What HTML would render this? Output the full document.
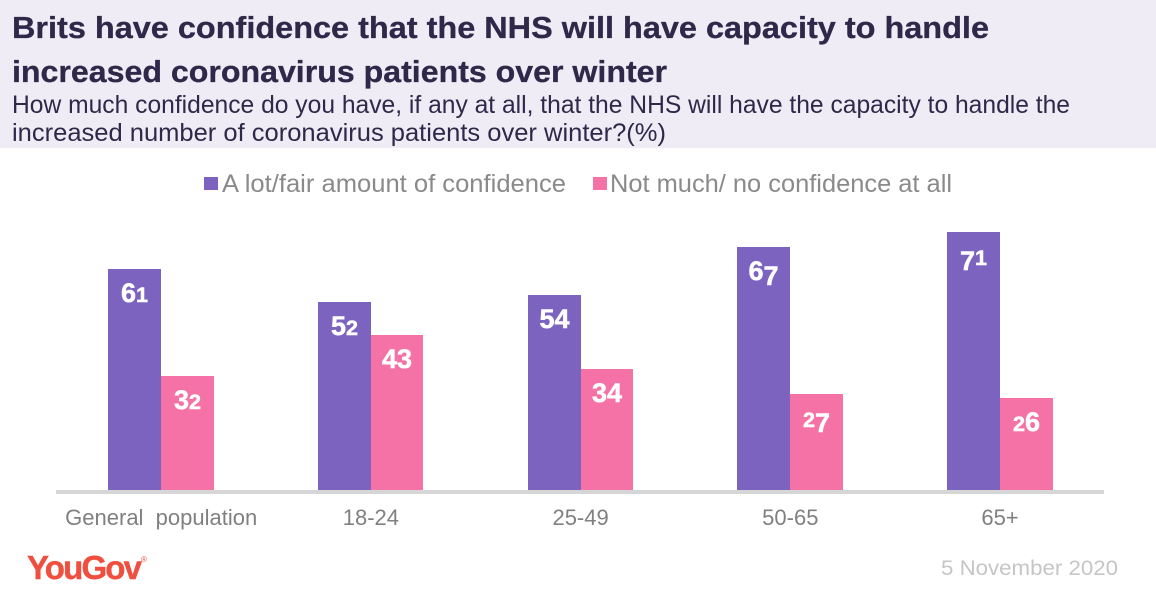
<!DOCTYPE html>
<html lang="en">
<head>
<meta charset="utf-8">
<title>Brits have confidence that the NHS will have capacity</title>
<style>
  html, body { margin: 0; padding: 0; background: #fff; }
  body { width: 1156px; height: 596px; overflow: hidden; }
  svg { display: block; font-family: "Liberation Sans", sans-serif; }
</style>
</head>
<body>
<svg id="chart" width="1156" height="596" viewBox="0 0 1156 596" xmlns="http://www.w3.org/2000/svg">
  <rect x="0" y="0" width="1156" height="596" fill="#ffffff"/>
  <rect x="0" y="0" width="1156" height="148" fill="#efecf6"/>
  <text x="12" y="38" font-size="31" font-weight="700" fill="#2f2849" stroke="#2f2849" stroke-width="0.3" textLength="977" lengthAdjust="spacingAndGlyphs">Brits have confidence that the NHS will have capacity to handle</text>
  <text x="12" y="82" font-size="31" font-weight="700" fill="#2f2849" stroke="#2f2849" stroke-width="0.3" textLength="655" lengthAdjust="spacingAndGlyphs">increased coronavirus patients over winter</text>
  <text x="12" y="113" font-size="25" fill="#2f2849" textLength="1058" lengthAdjust="spacingAndGlyphs">How much confidence do you have, if any at all, that the NHS will have the capacity to handle the</text>
  <text x="12" y="141" font-size="25" fill="#2f2849" textLength="654" lengthAdjust="spacingAndGlyphs">increased number of coronavirus patients over winter?(%)</text>

  <g>
    <rect x="204" y="177" width="14" height="13" fill="#7d63c0"/>
    <text x="222" y="192" font-size="25" fill="#8a8a8a" textLength="344" lengthAdjust="spacingAndGlyphs">A lot/fair amount of confidence</text>
    <rect x="593" y="177" width="14" height="13" fill="#f472a5"/>
    <text x="610" y="192" font-size="25" fill="#8a8a8a" textLength="342" lengthAdjust="spacingAndGlyphs">Not much/ no confidence at all</text>
  </g>

  <g id="bars"></g>
  <rect x="56" y="490" width="1048" height="4" fill="#d6d6d6"/>
  <g id="xlabels"></g>

  <g>
    <text x="27" y="579" font-size="33" font-weight="700" fill="#f04e3e" stroke="#f04e3e" stroke-width="0.4" textLength="115" lengthAdjust="spacing">YouGov</text>
    <text x="141" y="562" font-size="8" fill="#f04e3e">®</text>
  </g>
  <text x="941" y="575" font-size="21" fill="#c6c6c6" textLength="177" lengthAdjust="spacingAndGlyphs">5 November 2020</text>
</svg>
<script>
var categories = ["General  population", "18-24", "25-49", "50-65", "65+"];
var confidenceValues = [61, 52, 54, 67, 71];
var noConfidenceValues = [32, 43, 34, 27, 26];

var NS = "http://www.w3.org/2000/svg";
var barBottom = 490, zeroY = 494, unit = 3.69;
var firstCenter = 161.2, step = 209.7, purpleW = 53, pinkW = 52.5;

function yScale(v) { return Math.round(zeroY - v * unit); }
function xCenter(i) { return firstCenter + step * i; }

var barsG = document.getElementById("bars");
var labelsG = document.getElementById("xlabels");

/* Old-style numerals: small digits sit on the baseline, 7 descends */
function addDigits(t, value) {
  var size = 27, prevDy = 0;
  String(value).split("").forEach(function (d) {
    var small = "012".indexOf(d) >= 0;
    var dy = d === "7" ? 5 : 0;
    var s = document.createElementNS(NS, "tspan");
    s.setAttribute("font-size", small ? size * 0.8 : size);
    s.setAttribute("dy", dy - prevDy);
    s.textContent = d;
    t.appendChild(s);
    prevDy = dy;
  });
}

function drawBar(value, left, width, color, nameBase) {
  var top = yScale(value);
  var x0 = Math.round(left), x1 = Math.round(left + width);
  var r = document.createElementNS(NS, "rect");
  r.setAttribute("x", x0);
  r.setAttribute("y", top);
  r.setAttribute("width", x1 - x0);
  r.setAttribute("height", barBottom - top);
  r.setAttribute("fill", color);
  
  
  barsG.appendChild(r);

  var t = document.createElementNS(NS, "text");
  t.setAttribute("x", (x0 + x1) / 2);
  t.setAttribute("y", top + 33);
  t.setAttribute("text-anchor", "middle");
  t.setAttribute("font-weight", "700");
  t.setAttribute("fill", "#ffffff");
  t.setAttribute("stroke", "#ffffff");
  t.setAttribute("stroke-width", "0.5");
  addDigits(t, value);
  
  
  barsG.appendChild(t);
}

categories.forEach(function (c, i) {
  var cx = xCenter(i);
  drawBar(confidenceValues[i], cx - purpleW, purpleW, "#7d63c0", "confidence-" + i);
  drawBar(noConfidenceValues[i], cx, pinkW, "#f472a5", "no-confidence-" + i);

  var l = document.createElementNS(NS, "text");
  l.setAttribute("x", cx);
  l.setAttribute("y", 525);
  l.setAttribute("text-anchor", "middle");
  l.setAttribute("font-size", "22");
  l.setAttribute("fill", "#808080");
  l.style.whiteSpace = "pre";
  l.textContent = c;
  
  
  labelsG.appendChild(l);
});
</script>
</body>
</html>
